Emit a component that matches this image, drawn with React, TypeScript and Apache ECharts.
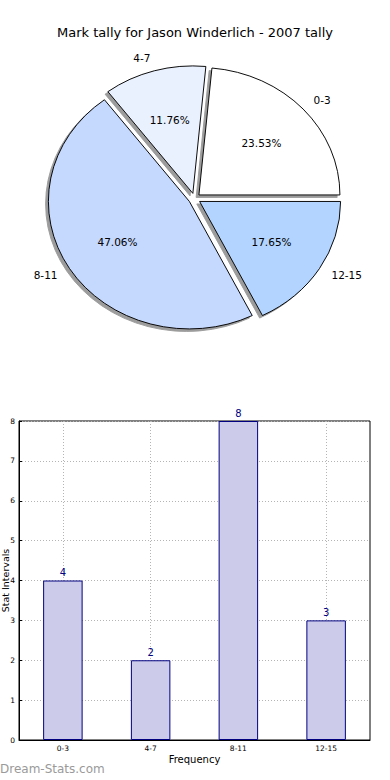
import React, { useEffect, useRef } from "react";
import * as echarts from "echarts";

const titleText = "Mark tally for Jason Winderlich - 2007 tally";
const categories = ["0-3", "4-7", "8-11", "12-15"];
const values = [4, 2, 8, 3];
const pieColors = ["#ffffff", "#e9f0fe", "#c5d8fe", "#b2d4fe"];
const yTicks = [0, 1, 2, 3, 4, 5, 6, 7, 8];
const xAxisName = "Frequency";
const yAxisName = "Stat Intervals";
const watermark = "Dream-Stats.com";

const FONT = "DejaVu Sans";

export default function App() {
  const ref = useRef<HTMLDivElement>(null);

  useEffect(() => {
    document.body.style.margin = "0";
    const chart = echarts.init(ref.current!, null, { renderer: "svg" });

    const total = values.reduce((a, b) => a + b, 0);
    const cum: number[] = [];
    values.reduce((acc, v, i) => {
      cum[i] = acc;
      return acc + v;
    }, 0);

    // pie geometry
    const cx = 194.5;
    const cy = 198.6;
    const rx = 141;
    const ry = 127.5;
    const explode = 6;
    const ratio = ry / rx;

    const geom = (i: number, v: number) => {
      const a0 = (2 * Math.PI * cum[i]) / total;
      const a1 = a0 + (2 * Math.PI * v) / total;
      const mid = (a0 + a1) / 2;
      const ox = cx + explode * Math.cos(mid);
      const oy = cy - explode * Math.sin(mid) * ratio;
      return { a0, a1, mid, ox, oy };
    };

    const makePie = (shadow: boolean) => (params: any, api: any) => {
      const i = params.dataIndex;
      const v = api.value(0);
      const g = geom(i, v);
      const dx = shadow ? -2.8 : 0;
      const dy = shadow ? 2.5 : 0;
      const children: any[] = [
        {
          type: "group",
          x: g.ox + dx,
          y: g.oy + dy,
          scaleY: ratio,
          children: [
            {
              type: "sector",
              shape: {
                cx: 0,
                cy: 0,
                r0: 0,
                r: rx,
                startAngle: -g.a0,
                endAngle: -g.a1,
                clockwise: false,
              },
              style: shadow
                ? { fill: "#9c9c9c", stroke: "#9c9c9c", lineWidth: 1, strokeNoScale: true }
                : { fill: pieColors[i], stroke: "#000000", lineWidth: 1, strokeNoScale: true },
            },
          ],
        },
      ];
      if (!shadow) {
        const c = Math.cos(g.mid);
        const s = Math.sin(g.mid);
        children.push({
          type: "text",
          x: g.ox + 1.1 * rx * c,
          y: g.oy - 1.1 * ry * s,
          style: {
            text: categories[i],
            fontFamily: FONT,
            fontSize: 10.5,
            fill: "#000",
            align: c > 0 ? "left" : "right",
            verticalAlign: "middle",
          },
        });
        children.push({
          type: "text",
          x: g.ox + 0.6 * rx * c,
          y: g.oy - 0.6 * ry * s,
          style: {
            text: ((v / total) * 100).toFixed(2) + "%",
            fontFamily: FONT,
            fontSize: 10.5,
            fill: "#000",
            align: "center",
            verticalAlign: "middle",
          },
        });
      }
      return { type: "group", children };
    };

    const pieData = values.map((v, i) => ({ name: categories[i], value: [v] }));

    chart.setOption({
      animation: false,
      backgroundColor: "#ffffff",
      textStyle: { fontFamily: FONT },
      title: {
        text: titleText,
        left: "center",
        top: 21,
        textStyle: { fontFamily: FONT, fontSize: 13, fontWeight: "normal", color: "#000" },
      },
      graphic: [
        {
          type: "text",
          left: 0,
          top: 763,
          style: {
            text: watermark,
            fontFamily: FONT,
            fontSize: 12,
            fill: "#9a9a9a",
          },
        },
      ],
      grid: {
        left: 19,
        top: 421,
        width: 351,
        height: 319,
        containLabel: false,
        outerBoundsMode: "none",
        show: true,
        borderColor: "#000",
        borderWidth: 1,
        backgroundColor: "transparent",
      },
      xAxis: {
        type: "category",
        data: categories,
        name: xAxisName,
        nameLocation: "middle",
        nameGap: 14,
        nameMoveOverlap: false,
        nameTextStyle: { fontFamily: FONT, fontSize: 10, color: "#000" },
        axisLine: { lineStyle: { color: "#000" } },
        axisTick: { show: true, inside: true, alignWithLabel: true, length: 3, lineStyle: { color: "#000" } },
        axisLabel: { fontFamily: FONT, fontSize: 7.5, color: "#000", margin: 4 },
        splitLine: {
          show: true,
          alignWithLabel: true,
          lineStyle: { color: "#b4b4b4", type: [1, 2], width: 1 },
        },
      },
      yAxis: {
        type: "value",
        min: 0,
        max: 8,
        interval: 1,
        name: yAxisName,
        nameLocation: "middle",
        nameGap: 9,
        nameMoveOverlap: false,
        nameTextStyle: { fontFamily: FONT, fontSize: 9.5, color: "#000" },
        axisLine: { show: true, lineStyle: { color: "#000" } },
        axisTick: { show: true, inside: true, length: 3, lineStyle: { color: "#000" } },
        axisLabel: {
          fontFamily: FONT,
          fontSize: 7.5,
          color: "#000",
          margin: 4,
          formatter: (v: number) => (yTicks.includes(v) ? String(v) : ""),
        },
        splitLine: { show: true, lineStyle: { color: "#b4b4b4", type: [1, 2], width: 1 } },
      },
      series: [
        {
          type: "custom",
          coordinateSystem: "none",
          renderItem: makePie(true),
          data: pieData,
          z: 1,
          silent: true,
        },
        {
          type: "custom",
          coordinateSystem: "none",
          renderItem: makePie(false),
          data: pieData,
          z: 2,
          silent: true,
        },
        {
          type: "bar",
          data: values,
          barWidth: "45%",
          itemStyle: { color: "#ccccea", borderColor: "#000080", borderWidth: 1 },
          label: {
            show: true,
            position: "top",
            distance: 3,
            fontFamily: FONT,
            fontSize: 10,
            color: "#000080",
          },
          z: 3,
        },
      ],
    });

    return () => chart.dispose();
  }, []);

  return <div ref={ref} style={{ width: 390, height: 780 }} />;
}
